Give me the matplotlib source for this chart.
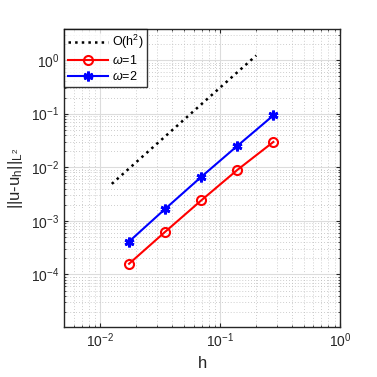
import matplotlib
matplotlib.use('Agg')
import matplotlib.pyplot as plt
from matplotlib.ticker import LogLocator, NullFormatter

plt.rcParams['font.family'] = ['Liberation Sans', 'DejaVu Sans']
plt.rcParams['mathtext.fontset'] = 'custom'
plt.rcParams['mathtext.rm'] = 'Liberation Sans'
plt.rcParams['mathtext.it'] = 'Liberation Sans:italic'

# mesh sizes and errors
h = [0.278, 0.139, 0.0695, 0.0347, 0.0174]
err_w1 = [0.0297, 0.0089, 0.0024, 0.00062, 0.000158]
err_w2 = [0.093, 0.025, 0.0066, 0.00166, 0.00041]
# reference slope line
ref_h = [0.0125, 0.2]
ref_err = [0.0049, 1.22]

fig = plt.figure(figsize=(3.77, 3.77), dpi=100)
ax = fig.add_axes([0.170, 0.133, 0.732, 0.790])

ax.loglog(ref_h, ref_err, ':', color='k', lw=1.8, label=r'O(h$^2$)')
ax.loglog(h, err_w1, '-o', color='r', lw=1.5, ms=6.5, mfc='none', mew=1.5,
          label=r'$\omega$=1')
ax.loglog(h, err_w2, '-', marker=(6, 2, 0), color='b', lw=1.5, ms=7, mew=2,
          label=r'$\omega$=2')

ax.set_xlim(0.005, 1)
ax.set_ylim(1.05e-5, 3.8)
ax.xaxis.set_major_locator(LogLocator(base=10, numticks=10))
ax.yaxis.set_major_locator(LogLocator(base=10, numticks=10))
ax.yaxis.set_minor_formatter(NullFormatter())
ax.xaxis.set_minor_formatter(NullFormatter())

ax.grid(True, which='major', color='#dcdcdc', lw=0.8, ls='-')
ax.grid(True, which='minor', color='#bdbdbd', lw=0.6, ls=(0, (1, 2.5)))
ax.set_axisbelow(True)

ax.tick_params(which='both', direction='in', top=True, right=True,
               labelsize=10, colors='#262626', labelcolor='#262626')
ax.tick_params(which='major', length=3)
ax.tick_params(which='minor', length=1.5)
for s in ax.spines.values():
    s.set_color('#262626')
    s.set_linewidth(1.0)

ax.set_xlabel('h', fontsize=12, color='#262626')
ax.set_ylabel(r'||u-u$_\mathrm{h}$||$_{\mathrm{L}^2}$', fontsize=12,
              color='#262626')

leg = ax.legend(loc='upper left', fontsize=9, frameon=True, fancybox=False,
                borderaxespad=0, handlelength=3.2, borderpad=0.3,
                labelspacing=0.25, handletextpad=0.3)
leg.get_frame().set_edgecolor('k')
leg.get_frame().set_linewidth(1.0)

fig.savefig('out.png', dpi=100)
